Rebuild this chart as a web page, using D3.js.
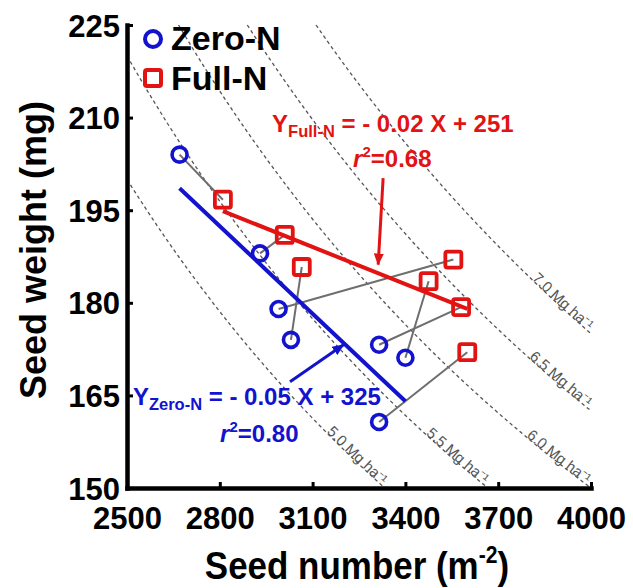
<!DOCTYPE html>
<html>
<head>
<meta charset="utf-8">
<script src="https://cdn.jsdelivr.net/npm/d3@7"></script>
<style>
  body { margin: 0; background: #fff; }
  svg { display: block; }
  text { font-family: "Liberation Sans", Arial, Helvetica, sans-serif; }
</style>
</head>
<body>
<svg id="chart" width="633" height="588"></svg>
<script>
// Seed number (m-2) and seed weight (mg); index i of each N treatment is the same site-year
const zeroNNumber = [2670, 2930, 2990, 3030, 3315, 3400, 3315];
const zeroNWeight = [204, 188, 179, 174, 173.2, 171.1, 160.7];
const fullNNumber = [2810, 3010, 3555, 3065, 3580, 3475, 3600];
const fullNWeight = [196.7, 191, 187, 185.8, 179.3, 183.5, 172];

const xTicks = [2500, 2800, 3100, 3400, 3700, 4000];
const yTicks = [150, 165, 180, 195, 210, 225];

// Iso-yield levels, Mg ha-1 (yield = number x weight x 1e-5)
const yieldLevels = [5.0, 5.5, 6.0, 6.5, 7.0];

const seriesNames = ["Zero-N", "Full-N"];
const eqFull = { sub: "Full-N", rest: " = - 0.02 X + 251", r2: "=0.68" };
const eqZero = { sub: "Zero-N", rest: " = - 0.05 X + 325", r2: "=0.80" };

const BLUE = "#1212cf";
const RED = "#e21313";
const GREY = "#6e6e6e";

const svg = d3.select("#chart");
const x = d3.scaleLinear().domain([2500, 4000]).range([127, 591]);
const y = d3.scaleLinear().domain([150, 225]).range([488, 25]);

// least-squares fit of weight on number
function fit(xs, ys) {
  const mx = d3.mean(xs), my = d3.mean(ys);
  let sxy = 0, sxx = 0;
  xs.forEach((v, i) => { sxy += (v - mx) * (ys[i] - my); sxx += (v - mx) * (v - mx); });
  const slope = sxy / sxx;
  return { slope, intercept: my - slope * mx, x0: d3.min(xs), x1: d3.max(xs) };
}
const fitZero = fit(zeroNNumber, zeroNWeight);
const fitFull = fit(fullNNumber, fullNWeight);

const defs = svg.append("defs");
[["arrowRed", RED], ["arrowBlue", BLUE]].forEach(([id, c]) => {
  defs.append("marker").attr("id", id)
    .attr("viewBox", "0 0 12 10").attr("refX", 11).attr("refY", 5)
    .attr("markerWidth", 12).attr("markerHeight", 10)
    .attr("markerUnits", "userSpaceOnUse").attr("orient", "auto")
    .append("path").attr("d", "M0,0 L12,5 L0,10 Z").attr("fill", c);
});

// iso-yield curves, clipped to the axis box, each labelled along its lower end
const curveG = svg.append("g");
yieldLevels.forEach((lv, k) => {
  const prod = lv * 1e5;
  const n0 = Math.max(2500, prod / 225);
  const n1 = Math.min(4000, prod / 150);
  const pts = d3.range(0, 61).map(i => {
    const n = n0 + (n1 - n0) * i / 60;
    return [n, prod / n];
  });
  curveG.append("path")
    .attr("id", "iso" + k)
    .attr("d", d3.line().x(d => x(d[0])).y(d => y(d[1]))(pts))
    .attr("fill", "none").attr("stroke", "#555").attr("stroke-width", 1.3)
    .attr("stroke-dasharray", "3.5,3");
  curveG.append("text")
    .attr("font-size", 15).attr("fill", "#555")
    .append("textPath")
    .attr("href", "#iso" + k).attr("startOffset", "99%").attr("text-anchor", "end")
    .text(lv.toFixed(1) + " Mg ha\u207B\u00B9");
});

// lines joining the two N treatments of each site-year
svg.append("g").selectAll("line")
  .data(zeroNNumber.map((n, i) => i))
  .join("line")
  .attr("x1", i => x(zeroNNumber[i])).attr("y1", i => y(zeroNWeight[i]))
  .attr("x2", i => x(fullNNumber[i])).attr("y2", i => y(fullNWeight[i]))
  .attr("stroke", GREY).attr("stroke-width", 2);

// regression lines
[[fitZero, BLUE], [fitFull, RED]].forEach(([f, c]) => {
  svg.append("line")
    .attr("x1", x(f.x0)).attr("y1", y(f.intercept + f.slope * f.x0))
    .attr("x2", x(f.x1)).attr("y2", y(f.intercept + f.slope * f.x1))
    .attr("stroke", c).attr("stroke-width", 4);
});

// markers
svg.append("g").selectAll("circle")
  .data(zeroNNumber.map((n, i) => i))
  .join("circle")
  .attr("cx", i => x(zeroNNumber[i])).attr("cy", i => y(zeroNWeight[i]))
  .attr("r", 7.5).attr("fill", "none").attr("stroke", BLUE).attr("stroke-width", 3.6);

svg.append("g").selectAll("rect")
  .data(fullNNumber.map((n, i) => i))
  .join("rect")
  .attr("x", i => x(fullNNumber[i]) - 8).attr("y", i => y(fullNWeight[i]) - 8)
  .attr("width", 16).attr("height", 16).attr("rx", 2)
  .attr("fill", "none").attr("stroke", RED).attr("stroke-width", 3.8);

// axes
const xAxis = svg.append("g").attr("transform", `translate(0,${y(150)})`)
  .call(d3.axisBottom(x).tickValues(xTicks).tickFormat(d3.format("d"))
    .tickSize(-6).tickSizeOuter(0).tickPadding(19));
const yAxis = svg.append("g").attr("transform", `translate(${x(2500)},0)`)
  .call(d3.axisLeft(y).tickValues(yTicks).tickFormat(d3.format("d"))
    .tickSize(-6).tickSizeOuter(0).tickPadding(7));
[xAxis, yAxis].forEach(a => {
  a.select(".domain").attr("stroke", "#000").attr("stroke-width", 4.5).attr("stroke-linecap", "square");
  a.selectAll(".tick line").attr("stroke", "#000").attr("stroke-width", 3);
  a.selectAll(".tick text").attr("font-size", 31).attr("font-weight", "bold")
    .attr("fill", "#000").attr("font-family", "'Liberation Sans', Arial, sans-serif");
});
yAxis.selectAll(".tick text").attr("dy", "0.36em");

// axis titles
const xt = svg.append("text").attr("transform", "translate(357,579) scale(0.92,1)")
  .attr("text-anchor", "middle").attr("font-size", 38).attr("font-weight", "bold");
xt.append("tspan").text("Seed number (m");
xt.append("tspan").attr("font-size", 23).attr("dy", -16).text("-2");
xt.append("tspan").attr("dy", 16).text(")");

svg.append("text").attr("transform", "translate(46,250) rotate(-90)")
  .attr("text-anchor", "middle").attr("font-size", 36).attr("font-weight", "bold")
  .text("Seed weight (mg)");

// legend
const lg = svg.append("g");
lg.append("circle").attr("cx", 153).attr("cy", 39).attr("r", 8)
  .attr("fill", "none").attr("stroke", BLUE).attr("stroke-width", 4);
lg.append("rect").attr("x", 145).attr("y", 70).attr("width", 16).attr("height", 16).attr("rx", 2)
  .attr("fill", "none").attr("stroke", RED).attr("stroke-width", 4);
lg.append("text").attr("x", 171).attr("y", 50).attr("font-size", 34).attr("font-weight", "bold")
  .text(seriesNames[0]);
lg.append("text").attr("x", 171).attr("y", 90).attr("font-size", 34).attr("font-weight", "bold")
  .text(seriesNames[1]);

// regression equations
function equation(eq, color, pos, r2pos) {
  const t = svg.append("text").attr("x", x(pos[0])).attr("y", y(pos[1]))
    .attr("font-size", 24).attr("font-weight", "bold").attr("fill", color);
  t.append("tspan").text("Y");
  t.append("tspan").attr("font-size", 16.5).attr("dy", 5).text(eq.sub);
  t.append("tspan").attr("dy", -5).text(eq.rest);
  const r = svg.append("text").attr("x", x(r2pos[0])).attr("y", y(r2pos[1]))
    .attr("font-size", 24).attr("font-weight", "bold").attr("fill", color);
  r.append("tspan").attr("font-style", "italic").text("r");
  r.append("tspan").attr("font-size", 15).attr("dy", -10).text("2");
  r.append("tspan").attr("dy", 10).text(eq.r2);
}
equation(eqFull, RED, [2969, 207.7], [3231, 202.0]);
equation(eqZero, BLUE, [2519, 163.4], [2801, 157.5]);

// arrows pointing from each equation to its line
function arrow(from, toX, f, off, color, id) {
  svg.append("line")
    .attr("x1", x(from[0])).attr("y1", y(from[1]))
    .attr("x2", x(toX)).attr("y2", y(f.intercept + f.slope * toX + off))
    .attr("stroke", color).attr("stroke-width", 3)
    .attr("marker-end", `url(#${id})`);
}
arrow([3328, 200.2], 3312, fitFull, 1.4, RED, "arrowRed");
arrow([3027, 167.2], 3200, fitZero, -0.3, BLUE, "arrowBlue");
</script>
</body>
</html>
